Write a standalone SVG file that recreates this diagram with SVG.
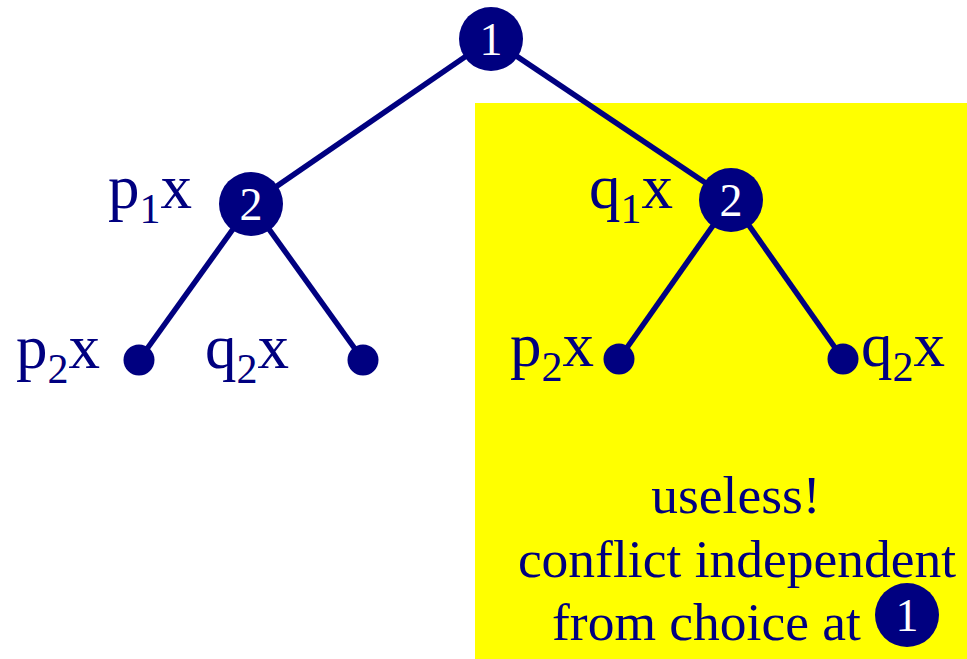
<svg xmlns="http://www.w3.org/2000/svg" width="967" height="659" viewBox="0 0 967 659">
<style>
.lbl{font-family:"Liberation Serif","Times New Roman",serif;font-size:63px;fill:#000080}
.sub{font-size:42px}
.num{font-family:"Liberation Serif","Times New Roman",serif;font-size:46px;fill:#ffffff;text-anchor:middle}
.big{fill:#000080}
.edge{stroke:#000080;stroke-width:5.5;fill:none}
.note{font-family:"Liberation Serif","Times New Roman",serif;font-size:53.5px;fill:#000080}
</style>
<rect x="475" y="103" width="492" height="556" fill="#ffff00"/>
<g id="connectors">
<line class="edge" x1="491" y1="39" x2="251" y2="204"/>
<line class="edge" x1="491" y1="39" x2="731" y2="200"/>
<line class="edge" x1="251" y1="204" x2="139" y2="360"/>
<line class="edge" x1="251" y1="204" x2="363" y2="360"/>
<line class="edge" x1="731" y1="200" x2="619" y2="359"/>
<line class="edge" x1="731" y1="200" x2="843" y2="359"/>
</g>
<g id="n1"><circle class="big" cx="491" cy="39" r="32"/><text class="num" x="491" y="55">1</text></g>
<g id="n2l"><circle class="big" cx="251" cy="204" r="32"/><text class="num" x="251" y="220">2</text><text class="lbl" x="108" y="208">p<tspan class="sub" dy="15">1</tspan><tspan dy="-15">x</tspan></text></g>
<g id="n2r"><circle class="big" cx="731" cy="200" r="32"/><text class="num" x="731" y="216">2</text><text class="lbl" x="589" y="208">q<tspan class="sub" dy="15">1</tspan><tspan dy="-15">x</tspan></text></g>
<g id="leaf1"><circle class="big" cx="139" cy="360" r="15.5"/><text class="lbl" x="16" y="368">p<tspan class="sub" dy="15">2</tspan><tspan dy="-15">x</tspan></text></g>
<g id="leaf2"><circle class="big" cx="363" cy="360" r="15.5"/><text class="lbl" x="205" y="368">q<tspan class="sub" dy="15">2</tspan><tspan dy="-15">x</tspan></text></g>
<g id="leaf3"><circle class="big" cx="619" cy="359" r="15.5"/><text class="lbl" x="510" y="366">p<tspan class="sub" dy="15">2</tspan><tspan dy="-15">x</tspan></text></g>
<g id="leaf4"><circle class="big" cx="843" cy="359" r="15.5"/><text class="lbl" x="861" y="366">q<tspan class="sub" dy="15">2</tspan><tspan dy="-15">x</tspan></text></g>
<g id="note">
<text class="note" x="736" y="513" text-anchor="middle">useless!</text>
<text class="note" x="737" y="577" text-anchor="middle">conflict independent</text>
<text class="note" x="552" y="640">from choice at</text>
<circle class="big" cx="907" cy="615" r="32"/><text class="num" x="907" y="631">1</text>
</g>
</svg>
